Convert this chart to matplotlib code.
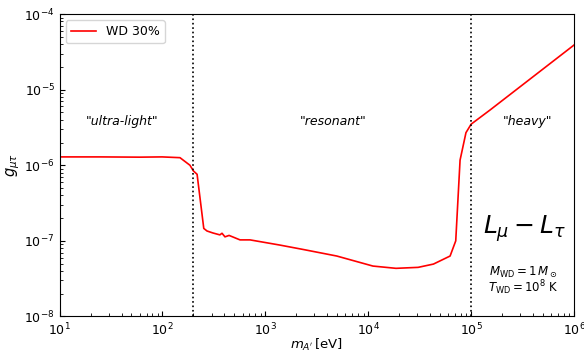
import numpy as np
import matplotlib
matplotlib.use("Agg")
import matplotlib.pyplot as plt

# WD 30% bound
mass_ev = [10, 25, 60, 99, 148, 185, 200, 217, 252, 271, 310, 361, 379, 405, 444,
           567, 710, 1380, 2320, 4940, 1.11e4, 1.86e4, 3.05e4, 4.3e4, 6.24e4,
           7.08e4, 7.8e4, 8.9e4, 1.0e5, 1.53e5, 1.0e6]
g_mutau = [1.29e-6, 1.29e-6, 1.28e-6, 1.29e-6, 1.26e-6, 1.0e-6, 8.4e-7, 7.6e-7,
           1.46e-7, 1.35e-7, 1.27e-7, 1.2e-7, 1.26e-7, 1.13e-7, 1.18e-7,
           1.03e-7, 1.03e-7, 8.8e-8, 7.7e-8, 6.3e-8, 4.64e-8, 4.33e-8, 4.46e-8,
           4.93e-8, 6.3e-8, 1.0e-7, 1.17e-6, 2.7e-6, 3.5e-6, 5.4e-6, 3.9e-5]

region_edges = [200, 1e5]
region_labels = ['"ultra-light"', '"resonant"', '"heavy"']
region_label_x = [40.5, 4550, 3.5e5]

fig, ax = plt.subplots(figsize=(5.84, 3.52), dpi=100)
fig.subplots_adjust(left=0.102, right=0.983, top=0.960, bottom=0.101)

ax.plot(mass_ev, g_mutau, color="red", lw=1.2, label="WD 30%")
for edge in region_edges:
    ax.axvline(edge, color="black", ls=":", lw=1.2)

for xl, lab in zip(region_label_x, region_labels):
    ax.text(xl, 3.85e-6, lab, ha="center", va="center", fontsize=9, style="italic")

ax.text(3.3e5, 1.45e-7, r"$L_\mu - L_\tau$", ha="center", va="center", fontsize=18)
ax.text(3.2e5, 3.85e-8, r"$M_{\rm WD} = 1\,M_\odot$", ha="center", va="center", fontsize=8.5)
ax.text(3.2e5, 2.4e-8, r"$T_{\rm WD} = 10^8$ K", ha="center", va="center", fontsize=8.5)

ax.set_xscale("log")
ax.set_yscale("log")
ax.set_xlim(10, 1e6)
ax.set_ylim(1e-8, 1e-4)
ax.tick_params(which="both", direction="in", labelsize=9)
ax.set_xlabel(r"$m_{A'}\,$[eV]", fontsize=9.5, labelpad=-1)
ax.set_ylabel(r"$g_{\mu\tau}$", fontsize=10.5, labelpad=2)
ax.legend(loc="upper left", fontsize=9)

fig.savefig("out.png", dpi=100)
